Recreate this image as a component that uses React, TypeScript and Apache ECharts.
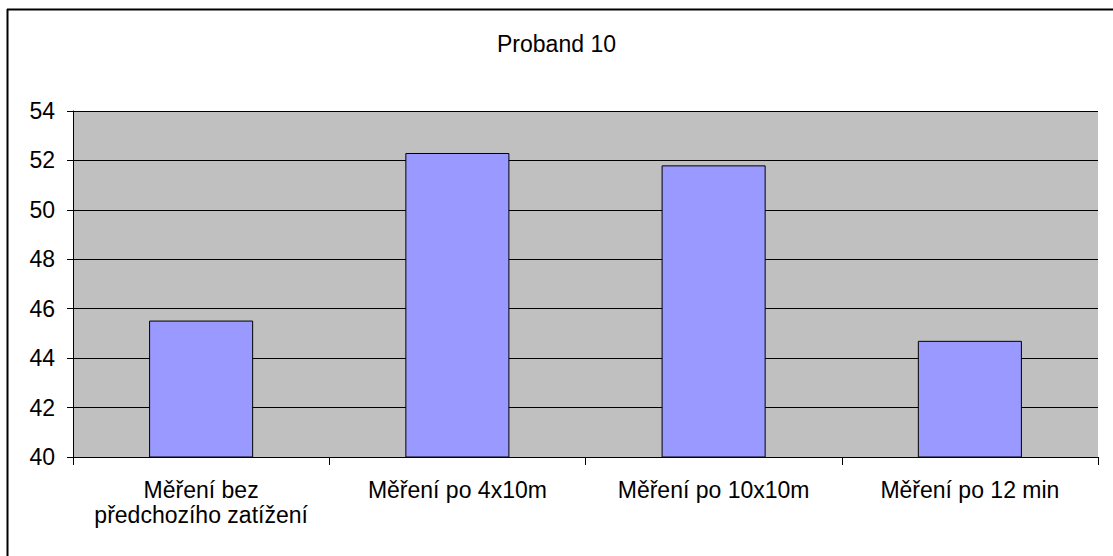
import React, { useEffect, useRef } from "react";
import * as echarts from "echarts";

const titleText = "Proband 10";
const categories = [
  "Měření bez\npředchozího zatížení",
  "Měření po 4x10m",
  "Měření po 10x10m",
  "Měření po 12 min",
];
const values = [45.52, 52.3, 51.8, 44.7];
const yMin = 40;
const yMax = 54;
const yInterval = 2;

const FONT = "Liberation Sans, Arial, sans-serif";

export default function App() {
  const ref = useRef<HTMLDivElement>(null);
  useEffect(() => {
    if (!ref.current) return;
    const chart = echarts.init(ref.current, null, { renderer: "svg" });
    chart.setOption({
      animation: false,
      backgroundColor: "#ffffff",
      title: {
        text: titleText,
        left: "center",
        top: 26,
        textStyle: {
          fontFamily: FONT,
          fontSize: 23,
          lineHeight: 25,
          fontWeight: "normal",
          color: "#000000",
        },
      },
      graphic: [
        {
          type: "line",
          shape: { x1: 7, y1: 9.5, x2: 1113, y2: 9.5 },
          style: { stroke: "#000000", lineWidth: 2 },
        },
        {
          type: "line",
          shape: { x1: 7.5, y1: 9, x2: 7.5, y2: 556 },
          style: { stroke: "#000000", lineWidth: 2 },
        },
      ],
      grid: {
        left: 73,
        top: 111,
        width: 1025,
        height: 346,
        show: true,
        backgroundColor: "#C0C0C0",
        borderWidth: 0,
      },
      xAxis: {
        type: "category",
        data: categories,
        axisLine: { show: true, lineStyle: { color: "#000000", width: 1 } },
        axisTick: { show: true, length: 8, alignWithLabel: false, lineStyle: { color: "#000000" } },
        axisLabel: {
          color: "#000000",
          fontFamily: FONT,
          fontSize: 23,
          lineHeight: 25,
          margin: 20,
          interval: 0,
        },
        splitLine: { show: false },
      },
      yAxis: {
        type: "value",
        min: yMin,
        max: yMax,
        interval: yInterval,
        axisLine: { show: true, lineStyle: { color: "#000000", width: 1 } },
        axisTick: { show: true, length: 6, lineStyle: { color: "#000000" } },
        axisLabel: {
          color: "#000000",
          fontFamily: FONT,
          fontSize: 23,
          margin: 18,
        },
        splitLine: { show: true, lineStyle: { color: "#000000", width: 1 } },
      },
      series: [
        {
          type: "bar",
          data: values,
          barWidth: "40.6%",
          itemStyle: {
            color: "#9999FF",
            borderColor: "#000000",
            borderWidth: 1,
          },
        },
      ],
    });
    return () => chart.dispose();
  }, []);
  return (
    <div
      ref={ref}
      style={{ position: "absolute", left: 0, top: 0, width: 1113, height: 556 }}
    />
  );
}
